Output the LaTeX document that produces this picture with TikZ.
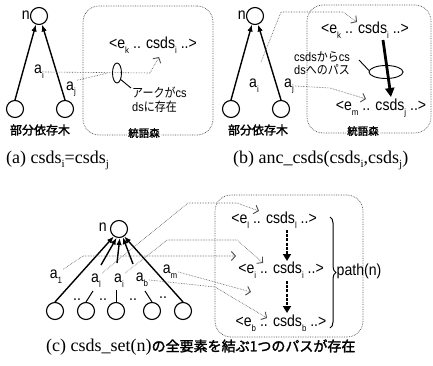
\documentclass[tikz,border=0pt]{standalone}
\usepackage{fontspec}
\setmainfont{Liberation Sans}
\newfontfamily\nar[FakeStretch=0.88]{Liberation Sans}
\newfontfamily\tms{Liberation Serif}
\newfontfamily\jp[FakeStretch=0.88]{Noto Sans CJK JP}
\newfontfamily\jpb[FakeBold=2]{Noto Sans CJK JP}
\usetikzlibrary{arrows.meta,shapes.geometric,decorations.pathreplacing}
\newcommand\sbs[1]{\raisebox{-0.55ex}{\fontsize{9}{9}\selectfont #1}}
\newcommand\tsb[1]{\raisebox{-0.5ex}{\fontsize{11}{11}\selectfont #1}}
\tikzset{
  vtx/.style={circle,draw,line width=1.1pt,minimum size=17pt,inner sep=0pt},
  tarr/.style={line width=1.4pt,-{Latex[length=7pt,width=5.5pt]}},
  dl/.style={densely dotted,line width=0.6pt,black!70},
  darr/.style={dl,-{Straight Barb[length=4pt,width=9pt,line width=0.9pt]}},
  fbox/.style={draw,densely dotted,line width=0.7pt,black!70,rounded corners=16pt,inner sep=0pt},
  lbl/.style={font=\nar\fontsize{16}{16}\selectfont,inner sep=1pt},
  captxt/.style={font=\tms\fontsize{18}{18}\selectfont,inner sep=0pt},
  treetxt/.style={font=\jpb\fontsize{12}{12}\selectfont,inner sep=1pt},
  foresttxt/.style={font=\jpb\fontsize{10.5}{10.5}\selectfont,fill=white,inner sep=1pt},
  notetxt/.style={font=\nar\fontsize{12.5}{13.5}\selectfont,align=left,inner sep=0pt},
  loopst/.style={draw,ellipse,line width=0.9pt,inner sep=0pt},
  bigarr/.style={line width=2.8pt,-{Triangle[length=9pt,width=9pt]}},
  dasharr/.style={line width=2.4pt,dash pattern=on 3pt off 1.2pt,-{Triangle[length=7pt,width=8pt]}},
}
\begin{document}
\begin{tikzpicture}[x=1pt,y=-1pt]
\useasboundingbox (0,0) rectangle (433,366);
% ---------------- panel (a)
\node[fbox,minimum width=130,minimum height=129] (fa) at (148,70.5) {};
\node[vtx] (an) at (39,16) {};
\node[lbl,anchor=east] (anl) at (31,15) {n};
\node[vtx] (al) at (15,109) {};
\node[vtx] (ar) at (65,109) {};
\draw[tarr] (al.north) -- (an.250);
\draw[tarr] (ar.north) -- (an.290);
\node[lbl] (ai) at (39,72) {a\sbs{i}};
\node[lbl] (aj) at (71,89) {a\sbs{j}};
\node[treetxt] (tra) at (40,130) {部分依存木};
\node[foresttxt] (fla) at (144,133) {統語森};
\node[lbl] (ea) at (153,45) {<e\sbs{k} .. csds\sbs{i} ..>};
\coordinate (pa1) at (150,73);
\coordinate (pa2) at (108,73);
\coordinate (ka) at (159,57);
\draw[dl] (ai.east) -- (pa1);
\draw[darr] (pa1) -- (ka);
\draw[dl] (aj.north east) -- (pa2);
\node[loopst,minimum width=9,minimum height=20] (lpa) at (117,73) {};
\node[notetxt,anchor=north west] (nta) at (132,87) {{\jp アークが}cs\\ds{\jp に存在}};
\coordinate (tla) at (131,88);
\draw[line width=0.9pt] (lpa.-60) -- (tla);
\node[captxt,anchor=west] (capa) at (6,160) {(a) csds\tsb{i}=csds\tsb{j}};
% ---------------- panel (b)
\node[fbox,minimum width=124,minimum height=128] (fb) at (369,69) {};
\node[vtx] (bn) at (255,16) {};
\node[lbl,anchor=east] (bnl) at (247,15) {n};
\node[vtx] (bl) at (231,109) {};
\node[vtx] (br) at (281,109) {};
\draw[tarr] (bl.north) -- (bn.250);
\draw[tarr] (br.north) -- (bn.290);
\node[lbl] (bi) at (254,86) {a\sbs{i}};
\node[lbl] (bj) at (289,86) {a\sbs{j}};
\node[treetxt] (trb) at (258,130) {部分依存木};
\node[foresttxt] (flb) at (363,131) {統語森};
\node[lbl] (eb1) at (365,30) {<e\sbs{k} .. csds\sbs{i} ..>};
\node[lbl] (eb2) at (381,108) {<e\sbs{m} .. csds\sbs{j} ..>};
\coordinate (bt1) at (383,40);
\coordinate (bt2) at (391,97);
\draw[bigarr] (bt1) -- (bt2);
\node[loopst,minimum width=34,minimum height=13] (lpb) at (386,72) {};
\node[notetxt,anchor=north west] (ntb) at (294,51) {csds{\jp から}cs\\ds{\jp へのパス}};
\coordinate (tlb) at (359,60);
\draw[line width=0.9pt] (tlb) -- (lpb.175);
\coordinate (bp0) at (261,62);
\coordinate (bp1) at (281,12);
\coordinate (bp2) at (343,12);
\coordinate (bk) at (357,22);
\draw[darr] (bp0) -- (bp1) -- (bp2) -- (bk);
\coordinate (bq1) at (330,88);
\coordinate (bq2) at (366,99);
\draw[darr] (bj.east) -- (bq1) -- (bq2);
\node[captxt,anchor=west] (capb) at (233,160) {(b) anc\_csds(csds\tsb{i},csds\tsb{j})};
% ---------------- panel (c)
\node[fbox,minimum width=148,minimum height=142] (fc) at (289,266) {};
\node[vtx] (cn) at (119,229) {};
\node[lbl,anchor=east] (cnl) at (108,227) {n};
\node[vtx] (c1) at (55,311) {};
\node[vtx] (c2) at (86,311) {};
\node[vtx] (c3) at (116,311) {};
\node[vtx] (c4) at (152,311) {};
\node[vtx] (c5) at (183,311) {};
\draw[tarr] (c1.north) -- (cn.235);
\draw[tarr] (c5.north) -- (cn.305);
\coordinate (s1) at (101,265);
\coordinate (s2) at (117,263);
\coordinate (s3) at (133,264);
\draw[tarr] (s1) -- (cn.255);
\draw[tarr] (s2) -- (cn.275);
\draw[tarr] (s3) -- (cn.295);
\coordinate (u2) at (93,291);
\coordinate (u3) at (116,290);
\coordinate (u4) at (145,291);
\draw[line width=1pt] (c2.north) -- (u2);
\draw[line width=1pt] (c3.north) -- (u3);
\draw[line width=1pt] (c4.north) -- (u4);
\node[lbl] (d1) at (77,300) {..};
\node[lbl] (d2) at (103,300) {..};
\node[lbl] (d3) at (133,300) {..};
\node[lbl] (d4) at (163,298) {..};
\node[lbl] (ca1) at (56,277) {a\sbs{1}};
\node[lbl] (ca2) at (96,281) {a\sbs{l}};
\node[lbl] (ca3) at (119,281) {a\sbs{i}};
\node[lbl] (ca4) at (142,280) {a\sbs{b}};
\node[lbl] (ca5) at (170,272) {a\sbs{m}};
\node[lbl] (ce1) at (274,220) {<e\sbs{l} .. csds\sbs{l} ..>};
\node[lbl] (ce2) at (281,270) {<e\sbs{i} .. csds\sbs{i} ..>};
\node[lbl] (ce3) at (281,323) {<e\sbs{b} .. csds\sbs{b} ..>};
\coordinate (v1) at (287,230);
\coordinate (v2) at (287,261);
\coordinate (v3) at (287,281);
\coordinate (v4) at (287,313);
\draw[dasharr] (v1) -- (v2);
\draw[dasharr] (v3) -- (v4);
\coordinate (br1) at (330,217);
\coordinate (br2) at (330,328);
\draw[line width=1pt,decorate,decoration={brace,amplitude=6pt}] (br1) -- (br2);
\node[lbl] (pn) at (359,271) {path(n)};
% dotted connectors
\coordinate (h1) at (83,256);
\coordinate (k2) at (236,256);
\draw[darr] (ca1.north east) -- (h1) -- (k2);
\coordinate (w1) at (188,203);
\coordinate (w2) at (237,203);
\coordinate (k1) at (259,211);
\draw[darr] (ca2.north east) -- (w1) -- (w2) -- (k1);
\coordinate (w3) at (167,240);
\coordinate (w4) at (237,240);
\coordinate (k3) at (263,263);
\draw[darr] (ca3.north east) -- (w3) -- (w4) -- (k3);
\coordinate (k4) at (251,292);
\draw[darr] (ca5.east) -- (k4);
\coordinate (w5) at (215,287);
\coordinate (k5) at (267,318);
\draw[darr] (ca4.east) -- (w5) -- (k5);
\node[captxt,anchor=west] (capc) at (46,347) {(c) csds\_set(n){\jpb\fontsize{14}{14}\selectfont の全要素を結ぶ1つのパスが存在}};
\end{tikzpicture}
\end{document}
